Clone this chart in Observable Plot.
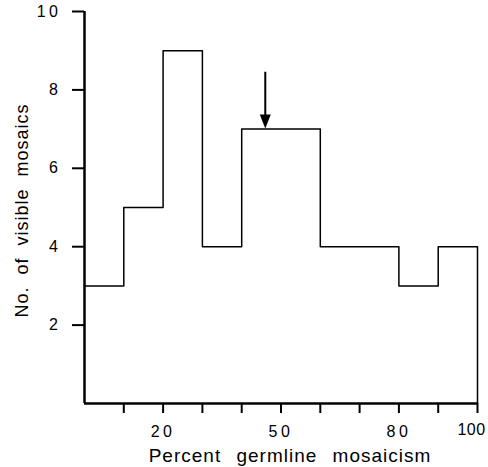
<!DOCTYPE html>
<html>
<head>
<meta charset="utf-8">
<script src="https://cdn.jsdelivr.net/npm/d3@7"></script>
<script src="https://cdn.jsdelivr.net/npm/@observablehq/plot@0.6"></script>
<style>
  body { margin: 0; background: white; }
  #chart svg { display: block; }
  g[aria-label="x-axis tick label"] text, g[aria-label="y-axis tick label"] text { letter-spacing: 3.5px; }
  .xtitle text { letter-spacing: 1px; word-spacing: 9px; }
  .ytitle text { letter-spacing: 1px; word-spacing: 6px; }
  .lastlabel text { letter-spacing: 0.5px; }
</style>
</head>
<body>
<div id="chart"></div>
<script>
// Histogram data (bins of percent germline mosaicism)
const binEdges = [0, 10, 20, 30, 40, 50, 60, 70, 80, 90, 100];
const counts = [3, 5, 9, 4, 7, 7, 4, 4, 3, 4];
const xTicks = [10, 20, 30, 40, 50, 60, 70, 80, 90, 100];
const xTickLabels = {20: "20", 50: "50", 80: "80"};
const lastTick = {x: 100, label: "100"};
const yTicks = [2, 4, 6, 8, 10];
const arrowX = 46;
const arrowTop = 8.45;
const arrowTip = 7;
const xLabel = "Percent germline mosaicism";
const yLabel = "No. of visible mosaics";

const stepPoints = binEdges.map((e, i) => ({x: e, y: counts[Math.min(i, counts.length - 1)]}));
stepPoints.push({x: binEdges[binEdges.length - 1], y: 0});

const arrowHead = {
  draw(ctx) {
    ctx.moveTo(0, 0);
    ctx.lineTo(-5.5, -14);
    ctx.lineTo(5.5, -14);
    ctx.closePath();
  }
};

const chart = Plot.plot({
  width: 488,
  height: 467,
  marginLeft: 84,
  marginRight: 11,
  marginTop: 11,
  marginBottom: 64,
  x: {domain: [0, 100]},
  y: {domain: [0, 10]},
  style: {fontFamily: "'Liberation Sans', Arial, sans-serif", background: "white", color: "black"},
  marks: [
    Plot.line(stepPoints, {x: "x", y: "y", curve: "step-after", stroke: "black", strokeWidth: 1.5}),
    Plot.axisX({ticks: xTicks, tickSize: 10, tickPadding: 12, tickFormat: d => xTickLabels[d] ?? "", strokeWidth: 2, fontSize: 16, label: null}),
    Plot.axisY({ticks: yTicks, tickSize: 12, tickPadding: 11, strokeWidth: 2, fontSize: 16, label: null}),
    Plot.text([lastTick], {x: "x", y: () => 0, text: "label", lineAnchor: "top", dy: 20, dx: -6, fontSize: 16, className: "lastlabel"}),
    Plot.ruleY([0], {stroke: "black", strokeWidth: 2.5}),
    Plot.ruleX([0], {stroke: "black", strokeWidth: 2.5}),
    Plot.ruleX([arrowX], {y1: arrowTip + 0.3, y2: arrowTop, stroke: "black", strokeWidth: 2}),
    Plot.dot([{x: arrowX, y: arrowTip}], {x: "x", y: "y", symbol: arrowHead, fill: "black", stroke: "none", dy: -0.5}),
    Plot.text([xLabel], {frameAnchor: "bottom", lineAnchor: "bottom", dy: 58, dx: 9, fontSize: 19, className: "xtitle"}),
    Plot.text([yLabel], {frameAnchor: "left", textAnchor: "middle", lineAnchor: "middle", rotate: -90, dx: -62, dy: 3, fontSize: 18, className: "ytitle"})
  ]
});
document.getElementById("chart").append(chart);
</script>
</body>
</html>
